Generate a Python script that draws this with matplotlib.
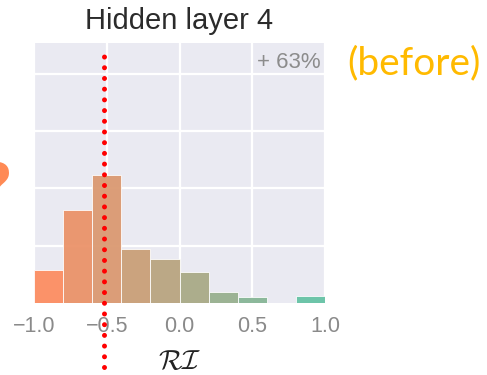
import numpy as np
import matplotlib
matplotlib.use("Agg")
import matplotlib.pyplot as plt
from matplotlib.colors import to_rgb

# Histogram of RI values for hidden layer 4
bin_edges = [-1.0, -0.8, -0.6, -0.4, -0.2, 0.0, 0.2, 0.4, 0.6, 0.8, 1.0]
bin_heights = [0.57, 1.62, 2.23, 0.94, 0.77, 0.54, 0.19, 0.10, 0.0, 0.12]
threshold = -0.52
xticks = [-1.0, -0.5, 0.0, 0.5, 1.0]
xticklabels = ["\u22121.0", "\u22120.5", "0.0", "0.5", "1.0"]
title = "Hidden layer 4"
share_label = "+ 63%"
tag_label = "(before)"

plt.rcParams["mathtext.fontset"] = "cm"
plt.rcParams["font.family"] = ["Liberation Sans", "DejaVu Sans"]

fig = plt.figure(figsize=(4.87, 3.75), dpi=100)
ax = fig.add_axes([34 / 487, 72 / 375, 291 / 487, 260 / 375])
ax.set_facecolor("#EAEAF2")
for s in ax.spines.values():
    s.set_visible(False)

# bar colours blend from orange to green across the bins
c0 = np.array(to_rgb("#FC8D62"))
c1 = np.array(to_rgb("#66C2A5"))
n = len(bin_heights)
colors = [tuple(c0 + (c1 - c0) * i / (n - 1)) for i in range(n)]

lefts = bin_edges[:-1]
widths = np.diff(bin_edges)
ax.bar(lefts, bin_heights, width=widths, align="edge", color=colors,
       alpha=0.95, edgecolor=(1, 1, 1, 0.25), linewidth=0.6, zorder=2)

ax.set_xlim(-1.0, 1.0)
ax.set_ylim(0, 4.54)
ax.set_xticks(xticks)
ax.set_xticklabels(xticklabels)
ax.set_yticks([1, 2, 3, 4])
ax.set_yticklabels([])
ax.grid(True, color="white", linewidth=1.6, zorder=0)
ax.set_axisbelow(True)
ax.tick_params(length=0, labelsize=15.5, labelcolor="#8a8a8a", pad=9)

ax.set_title(title, fontsize=21, color="#2b2b2b", pad=10)
ax.set_xlabel(r"$\mathcal{RI}$", fontsize=20, color="#222222", labelpad=9)

ax.text(0.985, 0.965, share_label, transform=ax.transAxes, ha="right", va="top",
        fontsize=16, color="#8c8c8c")

# threshold marker running below the axis
ax.axvline(threshold, ymin=-0.246, ymax=0.99, color="#FF0000", lw=3.6,
           linestyle=(0, (0.001, 2.14)), dash_capstyle="round",
           clip_on=False, zorder=5)

fig.text(414 / 487, 1 - 63 / 375, tag_label, ha="center", va="center",
         fontsize=28, color="#FFBA00", family=["Lato", "DejaVu Sans"])

# question mark partly outside the left edge
fig.text(-21 / 487, 1 - 205 / 375, "?", ha="left", va="baseline",
         fontsize=42, color="#FF8A55", family=["DejaVu Sans"],
         fontweight="bold")

fig.savefig("out.png", dpi=100)
